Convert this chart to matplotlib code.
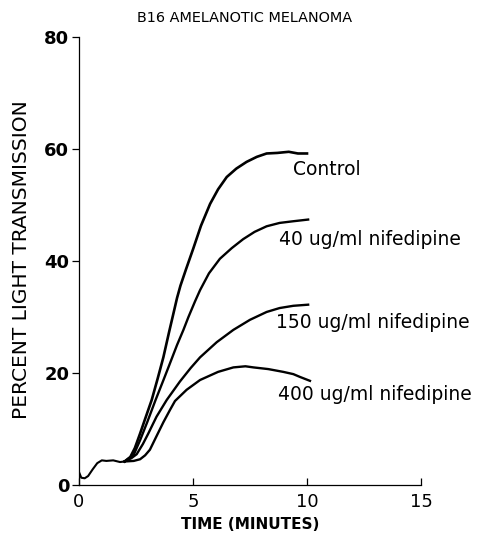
import matplotlib
matplotlib.use("Agg")
import matplotlib.pyplot as plt

# shared baseline (minutes, percent)
base_t = [0.0, 0.1, 0.25, 0.4, 0.6, 0.8, 1.0, 1.2, 1.5, 1.8, 2.0]
base_y = [2.3, 1.3, 1.2, 1.6, 2.8, 3.9, 4.4, 4.3, 4.4, 4.1, 4.2]

ctrl_t = [2.25, 2.45, 2.68, 2.9, 3.19, 3.45, 3.7, 3.95, 4.14, 4.3, 4.45, 4.7, 5.01,
          5.35, 5.75, 6.1, 6.48, 6.9, 7.35, 7.8, 8.23, 8.7, 9.2, 9.6, 10.0]
ctrl_y = [5.0, 6.6, 9.2, 11.8, 15.2, 19.0, 22.8, 27.3, 30.6, 33.4, 35.6, 38.6, 42.2,
          46.3, 50.2, 52.8, 55.0, 56.5, 57.7, 58.6, 59.2, 59.3, 59.5, 59.2, 59.2]

n40_t = [2.4, 2.68, 3.0, 3.36, 3.7, 3.93, 4.3, 4.58, 4.8, 5.09, 5.31, 5.7, 6.18,
         6.7, 7.2, 7.7, 8.23, 8.8, 9.4, 10.05]
n40_y = [5.4, 8.0, 11.3, 15.2, 18.7, 21.1, 25.0, 27.7, 30.0, 32.8, 34.8, 37.8, 40.4,
         42.3, 43.9, 45.2, 46.2, 46.8, 47.1, 47.4]

n150_t = [2.3, 2.53, 2.8, 3.04, 3.4, 3.85, 4.43, 4.9, 5.31, 6.04, 6.77, 7.5, 8.23,
          8.8, 9.4, 10.05]
n150_y = [4.8, 5.5, 7.3, 9.2, 12.2, 15.2, 18.5, 20.9, 22.8, 25.5, 27.7, 29.5, 30.9,
          31.6, 32.0, 32.2]

n400_t = [2.4, 2.68, 2.9, 3.11, 3.41, 3.7, 3.99, 4.21, 4.72, 5.31, 6.1, 6.77, 7.3,
          7.65, 8.3, 8.96, 9.4, 9.69, 10.13]
n400_y = [4.3, 4.6, 5.3, 6.3, 8.8, 11.2, 13.4, 15.0, 17.0, 18.75, 20.2, 21.0, 21.2,
          21.0, 20.7, 20.2, 19.8, 19.3, 18.6]

labels = ["Control", "40 ug/ml nifedipine", "150 ug/ml nifedipine", "400 ug/ml nifedipine"]
label_pos = [(9.39, 56.3), (8.77, 43.8), (8.64, 29.1), (8.73, 16.1)]

xticks = [0, 5, 10, 15]
yticks = [0, 20, 40, 60, 80]

plt.rcParams['font.family'] = ['DejaVu Sans']
fig = plt.figure(figsize=(4.89, 5.35), dpi=100)
ax = fig.add_axes([79/489, 1-485/535, (421-79)/489, (485-37)/535])

ax.plot(base_t, base_y, color='black', lw=1.5)
series = [(ctrl_t, ctrl_y, 1.9), (n40_t, n40_y, 1.7), (n150_t, n150_y, 1.7), (n400_t, n400_y, 1.7)]
for t, y, lw in series:
    ax.plot([base_t[-1]] + t, [base_y[-1]] + y, color='black', lw=lw)

for lab, (x, y) in zip(labels, label_pos):
    ax.text(x, y, lab, fontsize=13.5, ha='left', va='center', clip_on=False)

ax.set_xlim(0, 15)
ax.set_ylim(0, 80)
ax.set_xticks(xticks)
ax.set_yticks(yticks)
ax.spines['top'].set_visible(False)
ax.spines['right'].set_visible(False)
ax.spines['left'].set_linewidth(0.9)
ax.spines['bottom'].set_linewidth(0.9)
ax.tick_params(axis='y', direction='out', length=5, width=0.9, labelsize=13, pad=2)
ax.tick_params(axis='x', direction='in', length=5, width=0.9, labelsize=13, pad=6)
for lbl in ax.get_yticklabels():
    lbl.set_fontweight('bold')

ax.set_xlabel("TIME (MINUTES)", fontsize=11, fontweight='bold', labelpad=4)
fig.text(22/489, 1-260/535, "PERCENT LIGHT TRANSMISSION", fontsize=14.5,
         rotation=90, ha='center', va='center')
fig.text(245/489, 1-18/535, "B16 AMELANOTIC MELANOMA", fontsize=10.4, ha='center', va='center')

fig.savefig("out.png", dpi=100)
